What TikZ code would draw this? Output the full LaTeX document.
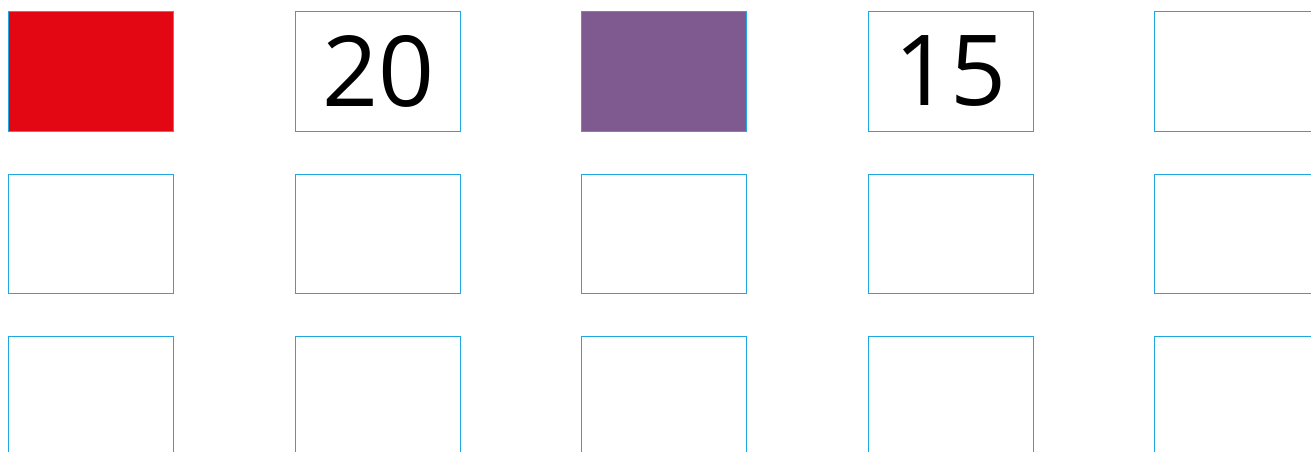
\documentclass[tikz,border=0pt]{standalone}
\usepackage{fontspec}
\setmainfont{Open Sans}
\definecolor{cellblue}{HTML}{1EA7E1}
\definecolor{cellred}{HTML}{E30613}
\definecolor{cellpurple}{HTML}{7F5A91}
\begin{document}
\begin{tikzpicture}[x=1pt,y=-1pt,
  cell/.style={draw=cellblue,line width=1.3pt,minimum width=165pt,minimum height=119.5pt,inner sep=0pt,anchor=north west,font=\fontsize{98}{98}\selectfont},
]
\useasboundingbox (0,0) rectangle (1311,452);
\clip (0,0) rectangle (1311,452);
\foreach \c in {0,...,4}{
  \foreach \r in {0,1,2}{
    \node[cell] (c\c r\r) at ({8+286.5*\c},{11+162.5*\r}) {};
  }
}
\node[cell,fill=cellred] (red) at (8,11) {};
\node[cell] (n20) at (295,11) {20};
\node[cell,fill=cellpurple] (purple) at (581,11) {};
\node[cell] (n15) at (867.5,11) {15};
\end{tikzpicture}
\end{document}
